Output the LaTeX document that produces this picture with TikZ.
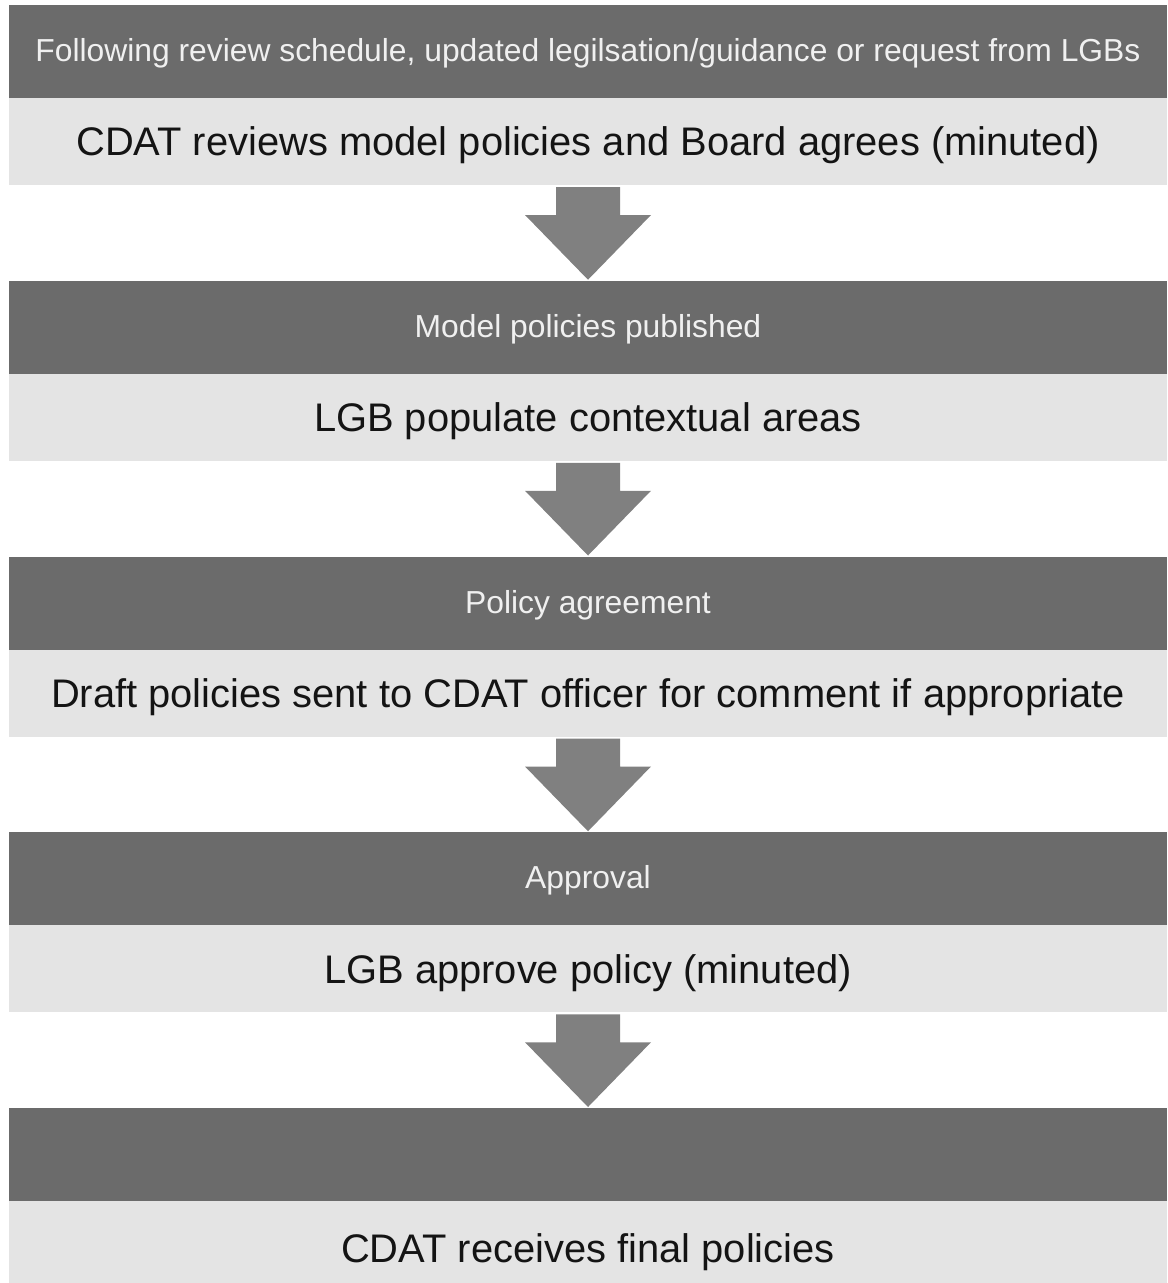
\documentclass[tikz,border=0pt]{standalone}
\usepackage{fontspec}
\setmainfont{Liberation Sans}
\usepackage{xcolor}
\usetikzlibrary{calc}
\usetikzlibrary{positioning}
\definecolor{headgray}{HTML}{6B6B6B}
\definecolor{bodygray}{HTML}{E4E4E4}
\definecolor{arrowgray}{HTML}{808080}
\def\boxwidth{23.16cm}
\tikzset{
headbox/.style={
	fill=headgray, text=white!94!black,
	minimum width=\boxwidth, minimum height=1.86cm, inner sep=0pt, outer sep=0pt,
	text height=14pt, text depth=2.4pt,
	font=\fontsize{18.1}{21}\selectfont
},
bodybox/.style={
	fill=bodygray, text=black!92,
	minimum width=\boxwidth, minimum height=1.74cm, inner sep=0pt, outer sep=0pt,
	text height=18pt, text depth=1.6pt,
	font=\fontsize{22.7}{26}\selectfont
},
downarrow/.style={fill=arrowgray},
}

\begin{document}
\begin{tikzpicture}[node distance=1.915cm]
\useasboundingbox (0,0) rectangle (23.34,-25.66);
%Place the nodes
\node[headbox] (h1) at (11.76,-1.03) {Following review schedule, updated legilsation/guidance or request from LGBs};
\node[bodybox, below=0pt of h1] (b1) {CDAT reviews model policies and Board agrees (minuted)};
\node[headbox, below=of b1] (h2) {Model policies published};
\node[bodybox, below=0pt of h2] (b2) {LGB populate contextual areas};
\node[headbox, below=of b2] (h3) {Policy agreement};
\node[bodybox, below=0pt of h3] (b3) {Draft policies sent to CDAT officer for comment if appropriate};
\node[headbox, below=of b3] (h4) {Approval};
\node[bodybox, below=0pt of h4] (b4) {LGB approve policy (minuted)};
\node[headbox, below=of b4] (h5) {};
\node[bodybox, below=0pt of h5, minimum height=1.9cm] (b5) {CDAT receives final policies};

%Block arrows between the steps
\foreach \i in {1,...,4} {
	\pgfmathtruncatemacro{\n}{\i+1}%
	\fill[downarrow] ($(b\i.south)+(-0.64,-0.04)$) -- ($(b\i.south)+(0.64,-0.04)$)
		-- ($(b\i.south)+(0.64,-0.60)$) -- ($(b\i.south)+(1.26,-0.60)$)
		-- ($(h\n.north)+(0,0.02)$)
		-- ($(b\i.south)+(-1.26,-0.60)$) -- ($(b\i.south)+(-0.64,-0.60)$) -- cycle;
}

\end{tikzpicture}
\end{document}
